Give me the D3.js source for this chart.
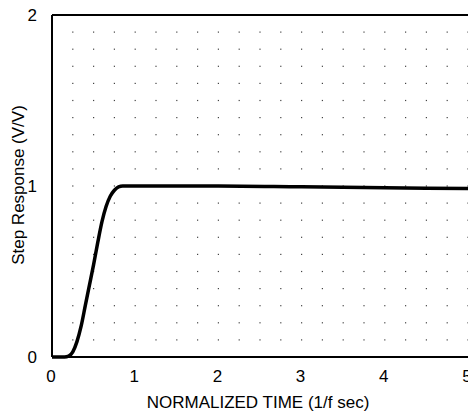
<!DOCTYPE html>
<html>
<head>
<meta charset="utf-8">
<script src="https://cdn.jsdelivr.net/npm/d3@7"></script>
<style>
  body { margin: 0; background: #fff; }
  svg { display: block; }
  text { font-family: "Liberation Sans", Arial, sans-serif; fill: #000; }
</style>
</head>
<body>
<svg id="chart" width="468" height="413"></svg>
<script>
// step response
const times = [0, 0.15, 0.2, 0.25, 0.3, 0.35, 0.4, 0.45, 0.5, 0.55, 0.6, 0.65, 0.7, 0.75, 0.8, 0.85, 1, 2, 3, 4, 5]
const response = [0, 0, 0.005, 0.03, 0.09, 0.18, 0.3, 0.42, 0.54, 0.67, 0.79, 0.88, 0.94, 0.975, 0.995, 1.0, 1.0, 1.0, 0.995, 0.99, 0.985]
const xTicks = [0, 1, 2, 3, 4, 5]
const yTicks = [0, 1, 2]

const svg = d3.select('#chart')
const margin = { left: 52, right: 0, top: 15, bottom: 56 }
const width = 468, height = 413

const x = d3.scaleLinear().domain([0, 5]).range([margin.left, width - margin.right])
const y = d3.scaleLinear().domain([0, 2]).range([height - margin.bottom, margin.top])

// dotted grid, quarter steps across and tenth steps up
const dotsX = d3.range(1, 21).map(i => i * 0.25)
const dotsY = d3.range(0, 20).map(i => i * 0.1)
const grid = svg.append('g').attr('fill', '#444')
dotsY.forEach(v => {
  grid.selectAll(null)
    .data(dotsX)
    .enter()
    .append('rect')
    .attr('x', d => x(d) - 0.6)
    .attr('y', y(v) - 0.6)
    .attr('width', 1.2)
    .attr('height', 1.2)
})

// frame: left, bottom and top lines
svg.append('line')
  .attr('x1', x(0)).attr('x2', x(0)).attr('y1', y(0)).attr('y2', y(2))
  .attr('stroke', '#000').attr('stroke-width', 2)
svg.append('line')
  .attr('x1', x(0)).attr('x2', x(5)).attr('y1', y(0)).attr('y2', y(0))
  .attr('stroke', '#000').attr('stroke-width', 2)
svg.append('line')
  .attr('x1', x(0)).attr('x2', x(5)).attr('y1', y(2)).attr('y2', y(2))
  .attr('stroke', '#000').attr('stroke-width', 2)

// curve
const line = d3.line()
  .x((d, i) => x(times[i]))
  .y(d => y(d))
  .curve(d3.curveMonotoneX)
svg.append('path')
  .datum(response)
  .attr('d', line)
  .attr('fill', 'none')
  .attr('stroke', '#000')
  .attr('stroke-width', 3.5)
  .attr('stroke-linejoin', 'round')

// tick labels
svg.append('g').selectAll('text')
  .data(xTicks)
  .enter()
  .append('text')
  .attr('x', d => x(d) - 1)
  .attr('y', y(0) + 25)
  .attr('text-anchor', 'middle')
  .style('font-size', '17px')
  .text(d => d)

svg.append('g').selectAll('text')
  .data(yTicks)
  .enter()
  .append('text')
  .attr('x', x(0) - 15)
  .attr('y', d => y(d) + 6)
  .attr('text-anchor', 'end')
  .style('font-size', '17px')
  .text(d => d)

// axis titles
svg.append('text')
  .attr('x', 258)
  .attr('y', 408)
  .attr('text-anchor', 'middle')
  .style('font-size', '17px')
  .text('NORMALIZED TIME (1/f sec)')

svg.append('text')
  .attr('transform', 'translate(24,' + (y(1) - 1) + ') rotate(-90)')
  .attr('text-anchor', 'middle')
  .style('font-size', '17px')
  .text('Step Response (V/V)')
</script>
</body>
</html>
